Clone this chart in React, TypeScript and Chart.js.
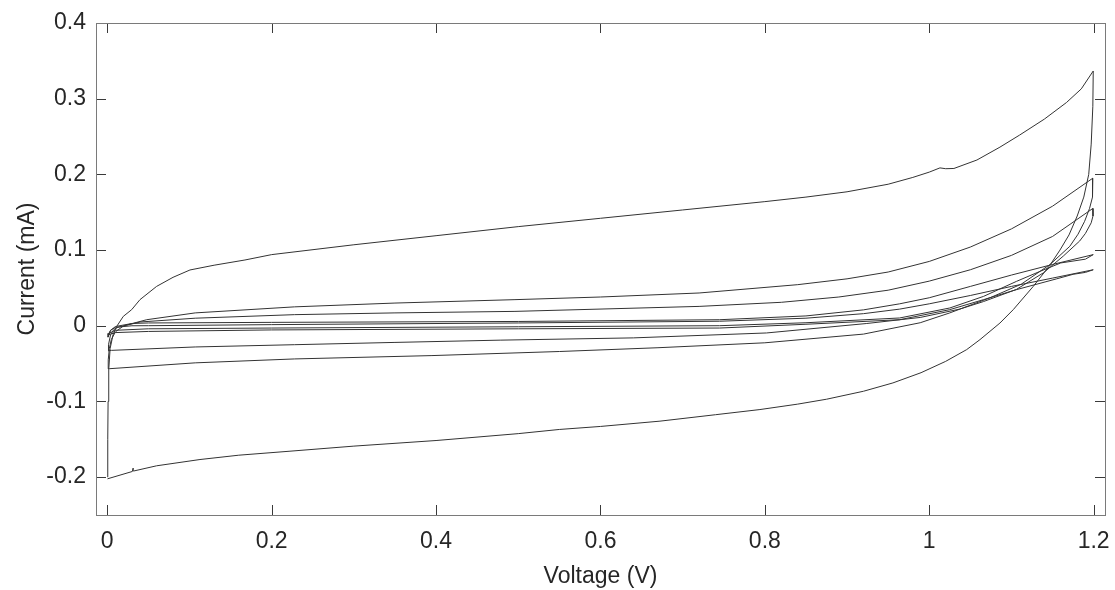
import React, { useEffect, useRef } from "react";
import { Chart, registerables } from "chart.js";

Chart.register(...registerables);

// Axis settings
const xTicks = [0, 0.2, 0.4, 0.6, 0.8, 1, 1.2];
const yTicks = [-0.2, -0.1, 0, 0.1, 0.2, 0.3, 0.4];
const xRange = [-0.0137, 1.2138];
const yRange = [-0.25, 0.4];
const xTitle = "Voltage (V)";
const yTitle = "Current (mA)";

// Loop A (largest loop): voltage (V) and current (mA)
const loopA_V = [
  0.0005, 0.0006, 0.001, 0.0018, 0.0035, 0.007, 0.0114, 0.0195, 0.0297, 0.0398, 0.06, 0.08, 0.1006,
  0.13, 0.1675, 0.2, 0.3, 0.4, 0.5, 0.6, 0.7, 0.8, 0.85, 0.9, 0.95, 0.98, 1.0, 1.013, 1.02, 1.03,
  1.058, 1.086, 1.11, 1.14, 1.167, 1.185, 1.1995,
  1.199, 1.197, 1.194, 1.188, 1.18, 1.17, 1.159, 1.1468, 1.1265, 1.1022, 1.086, 1.0617, 1.0455,
  1.02, 0.99, 0.9558, 0.92, 0.8752, 0.84, 0.794, 0.74, 0.6724, 0.6, 0.55, 0.5, 0.4, 0.3, 0.2223, 0.16,
  0.1128, 0.06, 0.0325, 0.0315, 0.0305, 0.0003,
];
const loopA_I = [
  -0.2, -0.15, -0.1, -0.058, -0.03, -0.012, -0.001, 0.0124, 0.0213, 0.0345, 0.052, 0.064, 0.0737,
  0.08, 0.0869, 0.094, 0.107, 0.119, 0.131, 0.142, 0.153, 0.164, 0.17, 0.177, 0.187, 0.196, 0.203, 0.2086, 0.2075, 0.2078,
  0.219, 0.236, 0.252, 0.273, 0.295, 0.313, 0.3366,
  0.29, 0.24, 0.2, 0.17, 0.145, 0.12, 0.1, 0.08, 0.052, 0.0213, 0.0036, -0.0183, -0.0315,
  -0.047, -0.062, -0.0755, -0.0865, -0.097, -0.1035, -0.1107, -0.1175, -0.126, -0.133, -0.137, -0.1425, -0.1516, -0.159, -0.1657, -0.171,
  -0.1767, -0.185, -0.1918, -0.188, -0.1925, -0.2022,
];

// Loop B
const loopB_V = [
  0.001, 0.0012, 0.0025, 0.005, 0.01, 0.02, 0.048, 0.107, 0.228, 0.35, 0.496, 0.6, 0.72, 0.84, 0.9,
  0.95, 1.0, 1.05, 1.1, 1.15, 1.199,
  1.1992, 1.198, 1.195, 1.189, 1.181, 1.171, 1.147, 1.112, 1.074, 1.025, 0.989, 0.92, 0.8, 0.67, 0.55,
  0.395, 0.228, 0.107, 0.003, 0.001,
];
const loopB_I = [
  -0.057, -0.045, -0.03, -0.018, -0.008, 0.0, 0.008, 0.017, 0.025, 0.03, 0.0345, 0.038, 0.0433, 0.0543, 0.062,
  0.071, 0.085, 0.104, 0.128, 0.158, 0.195,
  0.185, 0.17, 0.155, 0.138, 0.121, 0.105, 0.081, 0.055, 0.037, 0.017, 0.004, -0.011, -0.0225, -0.029, -0.034,
  -0.0394, -0.0438, -0.049, -0.0567, -0.057,
];

// Loop C
const loopC_V = [
  0.001, 0.0015, 0.004, 0.008, 0.013, 0.04, 0.107, 0.228, 0.35, 0.496, 0.72, 0.82, 0.89, 0.95, 1.0,
  1.05, 1.1, 1.15, 1.199,
  1.1992, 1.197, 1.19, 1.183, 1.163, 1.139, 1.106, 1.066, 1.037, 0.989, 0.924, 0.802, 0.64, 0.478, 0.35,
  0.228, 0.107, 0.005, 0.001,
];
const loopC_I = [
  -0.033, -0.025, -0.012, -0.005, -0.002, 0.005, 0.01, 0.0147, 0.017, 0.019, 0.0256, 0.031, 0.038, 0.047, 0.059,
  0.074, 0.093, 0.118, 0.155,
  0.145, 0.136, 0.122, 0.112, 0.092, 0.07, 0.048, 0.032, 0.022, 0.011, 0.003, -0.0095, -0.016, -0.019, -0.022,
  -0.025, -0.028, -0.0325, -0.033,
];

// Loop D
const loopD_V = [
  0.001, 0.004, 0.01, 0.03, 0.05, 0.2, 0.5, 0.745, 0.85, 0.92, 0.964, 1.0, 1.05, 1.1, 1.15, 1.1995,
  1.19, 1.16, 1.135, 1.106, 1.066, 1.025, 0.964, 0.85, 0.745, 0.5, 0.2, 0.05, 0.01, 0.002, 0.001,
];
const loopD_I = [
  -0.015, -0.006, -0.001, 0.003, 0.0037, 0.0045, 0.0057, 0.008, 0.013, 0.021, 0.029, 0.037, 0.052, 0.067, 0.081, 0.094,
  0.088, 0.083, 0.072, 0.0586, 0.0388, 0.0235, 0.0103, 0.004, 0.0001, -0.0013, -0.003, -0.004, -0.006, -0.01, -0.015,
];

// Loop E
const loopE_V = [
  0.001, 0.004, 0.01, 0.03, 0.05, 0.2, 0.5, 0.745, 0.85, 0.92, 0.964, 1.0, 1.05, 1.1, 1.15, 1.1995,
  1.19, 1.175, 1.155, 1.106, 1.066, 1.025, 0.964, 0.85, 0.745, 0.5, 0.2, 0.05, 0.01, 0.001,
];
const loopE_I = [
  -0.012, -0.006, -0.002, 0.0, 0.0001, 0.0015, 0.0037, 0.006, 0.01, 0.016, 0.022, 0.029, 0.04, 0.052, 0.063, 0.074,
  0.0705, 0.068, 0.062, 0.0477, 0.0345, 0.0213, 0.008, 0.002, -0.003, -0.004, -0.0055, -0.0075, -0.009, -0.012,
];

const loops = [
  { v: loopA_V, i: loopA_I },
  { v: loopB_V, i: loopB_I },
  { v: loopC_V, i: loopC_I },
  { v: loopD_V, i: loopD_I },
  { v: loopE_V, i: loopE_I },
];

const FONT = "'Liberation Sans', Arial, Helvetica, sans-serif";
const TEXT = "#262626";

const framePlugin = {
  id: "framePlugin",
  afterDraw(chart: any) {
    const { ctx, chartArea } = chart;
    const { left, right, top, bottom } = chartArea;
    const xs = chart.scales.x;
    const ys = chart.scales.y;
    const tl = 10;
    ctx.save();
    ctx.lineWidth = 1;
    ctx.strokeStyle = "#3a3a3a";
    ctx.beginPath();
    xTicks.forEach((t) => {
      const px = Math.round(xs.getPixelForValue(t)) + 0.5;
      ctx.moveTo(px, bottom);
      ctx.lineTo(px, bottom - tl);
      ctx.moveTo(px, top);
      ctx.lineTo(px, top + tl);
    });
    yTicks.forEach((t) => {
      const py = Math.round(ys.getPixelForValue(t)) + 0.5;
      ctx.moveTo(left, py);
      ctx.lineTo(left + tl, py);
      ctx.moveTo(right, py);
      ctx.lineTo(right - tl, py);
    });
    ctx.stroke();
    ctx.strokeStyle = "#7a7a7a";
    ctx.strokeRect(Math.round(left) + 0.5, Math.round(top) + 0.5, Math.round(right - left), Math.round(bottom - top));
    ctx.restore();
  },
};

export default function App() {
  const ref = useRef<HTMLCanvasElement | null>(null);
  useEffect(() => {
    if (!ref.current) return;
    const chart = new Chart(ref.current, {
      type: "scatter",
      data: {
        datasets: loops.map((l, k) => ({
          label: "loop" + (k + 1),
          data: l.v.map((v, j) => ({ x: v, y: l.i[j] })),
          showLine: true,
          pointRadius: 0,
          borderColor: "#333333",
          borderWidth: 1,
          tension: 0,
          fill: false,
        })),
      },
      options: {
        animation: false,
        responsive: false,
        events: [],
        layout: { padding: { top: 23, right: 10, left: 0, bottom: 0 } },
        plugins: { legend: { display: false }, tooltip: { enabled: false } },
        scales: {
          x: {
            type: "linear",
            min: xRange[0],
            max: xRange[1],
            afterBuildTicks: (s: any) => {
              s.ticks = xTicks.map((value) => ({ value }));
            },
            afterFit: (s: any) => {
              s.height = 75;
              s.paddingLeft = 0;
              s.paddingRight = 0;
            },
            grid: { display: false, drawTicks: false },
            border: { display: false },
            ticks: {
              padding: 13,
              color: TEXT,
              font: { family: FONT, size: 23 },
              callback: (v: any) => String(Number(Number(v).toFixed(2))),
            },
            title: {
              display: true,
              text: xTitle,
              color: TEXT,
              font: { family: FONT, size: 23, lineHeight: 1 },
              padding: { top: 0, bottom: 2 },
            },
          },
          y: {
            type: "linear",
            min: yRange[0],
            max: yRange[1],
            afterBuildTicks: (s: any) => {
              s.ticks = yTicks.map((value) => ({ value }));
            },
            afterFit: (s: any) => {
              s.width = 96;
              s.paddingTop = 0;
              s.paddingBottom = 0;
            },
            grid: { display: false, drawTicks: false },
            border: { display: false },
            ticks: {
              padding: 10,
              color: TEXT,
              font: { family: FONT, size: 23 },
              callback: (v: any) => String(Number(Number(v).toFixed(2))),
            },
            title: {
              display: true,
              text: yTitle,
              color: TEXT,
              font: { family: FONT, size: 23, lineHeight: 1 },
              padding: { top: 16, bottom: 0 },
            },
          },
        },
      },
      plugins: [framePlugin],
    });
    return () => chart.destroy();
  }, []);
  return (
    <>
      <style>{"html,body{margin:0;padding:0;overflow:hidden;}"}</style>
      <canvas ref={ref} width={1115} height={590} style={{ display: "block" }} />
    </>
  );
}
